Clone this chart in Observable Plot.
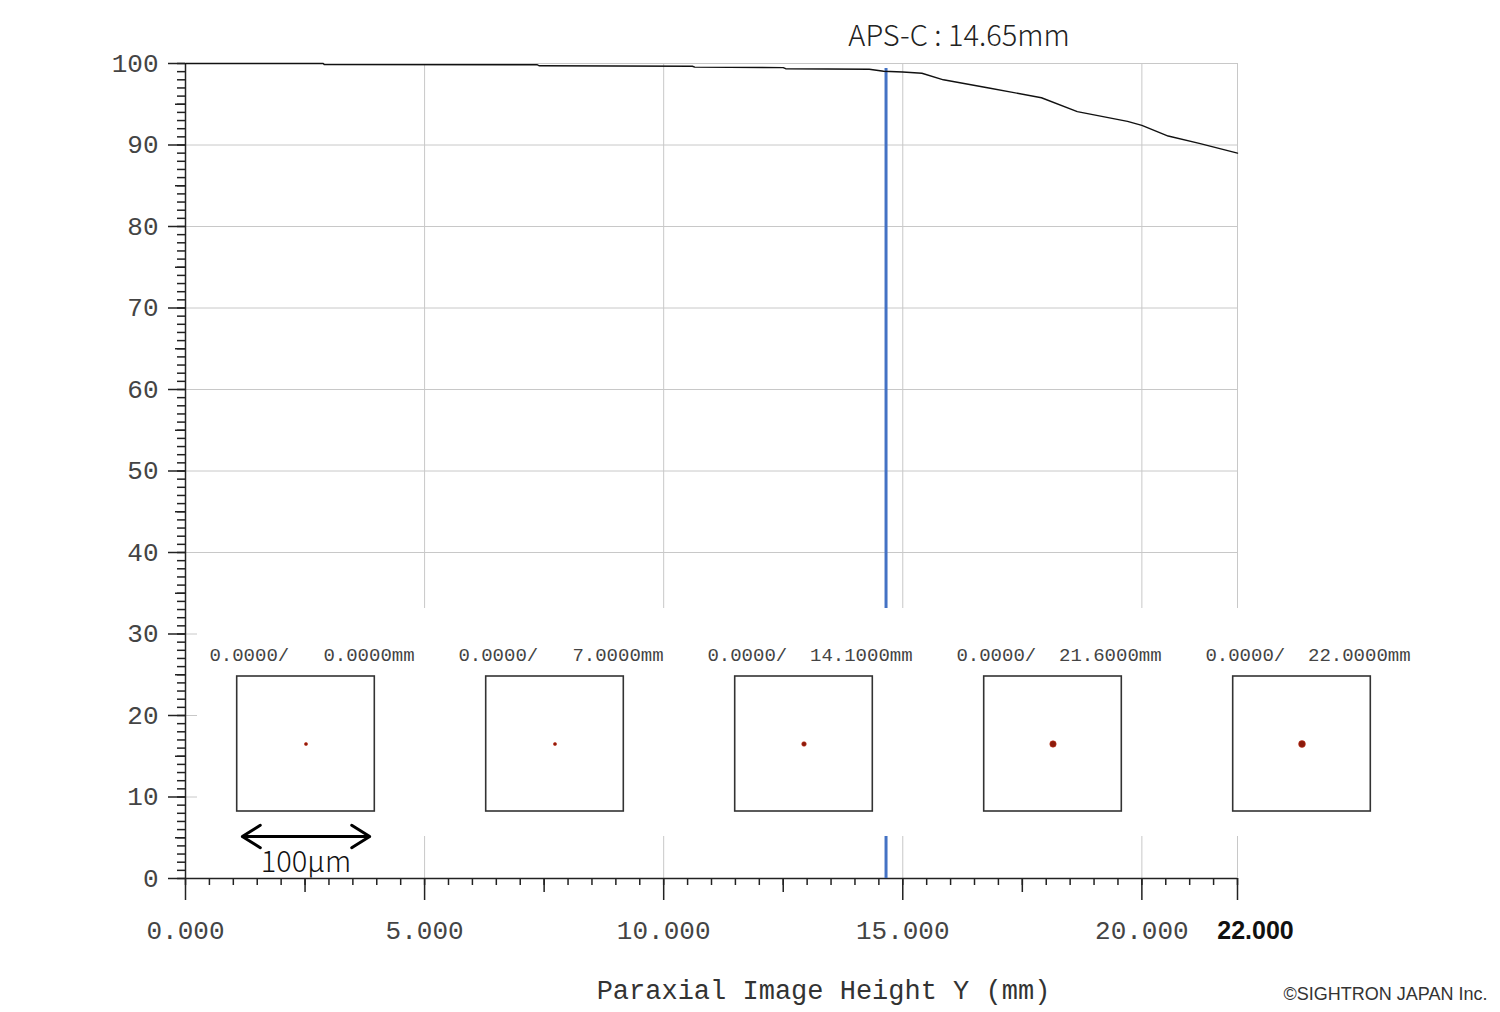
<!DOCTYPE html>
<html><head><meta charset="utf-8">
<script src="https://cdn.jsdelivr.net/npm/d3@7"></script>
<script src="https://cdn.jsdelivr.net/npm/@observablehq/plot@0.6"></script>
<style>
html,body{margin:0;padding:0;background:#fff;}
#wrap{position:relative;width:1500px;height:1012px;overflow:hidden;}
#main{position:absolute;left:0;top:0;}
#inset{position:absolute;left:197px;top:608px;}
svg text{white-space:pre;}
</style></head><body>
<div id="wrap"><div id="main"></div><div id="inset"></div></div>
<script>
// ---- data ----
const curveX = [0, 2.88, 2.9, 7.35, 7.4, 10.6, 10.65, 12.5, 12.55, 14.3, 14.6, 15.0, 15.4, 15.85, 16.8, 17.9, 18.65, 19.7, 20.0, 20.55, 21.2, 22.0];
const curveY = [100, 100, 99.88, 99.85, 99.72, 99.66, 99.55, 99.5, 99.36, 99.3, 99.05, 98.95, 98.8, 98.0, 97.0, 95.8, 94.1, 92.9, 92.4, 91.1, 90.2, 89.0];
const apsC = 14.65;
const apsTop = 99.4;
const apsLabel = "APS-C : 14.65mm";
const xLabelTicks = [0, 5, 10, 15, 20];
const xEnd = 22;
const xGrid = [5, 10, 15, 20, 22];
const xMajor = [0, 5, 10, 15, 20, 22];
const xMedium = [2.5, 7.5, 12.5, 17.5];
const yTicks = [0, 10, 20, 30, 40, 50, 60, 70, 80, 90, 100];
const yGrid = [10, 20, 30, 40, 50, 60, 70, 80, 90, 100];
const yMedium = [5, 15, 25, 35, 45, 55, 65, 75, 85, 95];
const xTitle = "Paraxial Image Height Y (mm)";
const copyright = "©SIGHTRON JAPAN Inc.";

const spotLabels = ["0.0000/   0.0000mm", "0.0000/   7.0000mm", "0.0000/  14.1000mm", "0.0000/  21.6000mm", "0.0000/  22.0000mm"];
const spotRadius = [1.6, 1.6, 2.3, 3.2, 3.4];
const boxHalfUm = 54;
const scaleBarUm = 100;
const scaleBarLabel = "100μm";

// ---- build ----
const curve = curveX.map((x, i) => ({x, y: curveY[i]}));
const fmt = d3.format(".3f");
const mono = "'Liberation Mono', 'DejaVu Sans Mono', monospace";
const jp = "'Noto Sans CJK JP', 'Noto Sans', sans-serif";
const tickColor = "#222";

const main = Plot.plot({
  width: 1500, height: 1012,
  marginTop: 63, marginBottom: 134, marginLeft: 185, marginRight: 263,
  x: {domain: [0, xEnd], label: null},
  y: {domain: [0, 100], label: null},
  style: {background: "white", overflow: "visible"},
  marks: [
    Plot.gridX(xGrid, {stroke: "#c8c8c8", strokeOpacity: 1, strokeWidth: 1}),
    Plot.gridY(yGrid, {stroke: "#c8c8c8", strokeOpacity: 1, strokeWidth: 1}),
    Plot.axisY({ticks: d3.range(0, 101, 1), tickSize: 8, tickFormat: () => "", label: null, stroke: tickColor, strokeWidth: 1.5}),
    Plot.axisY({ticks: yMedium, tickSize: 10, tickFormat: () => "", label: null, stroke: tickColor, strokeWidth: 1.5}),
    Plot.axisY({ticks: yTicks, tickSize: 17, tickFormat: () => "", label: null, stroke: tickColor, strokeWidth: 1.5}),
    Plot.axisY({ticks: yTicks, tickSize: 0, tickPadding: 27, label: null, fontSize: 26, fontFamily: mono, fill: "#444"}),
    Plot.axisX({ticks: d3.range(0, 22.01, 0.5), tickSize: 7, tickFormat: () => "", label: null, stroke: tickColor, strokeWidth: 1.5}),
    Plot.axisX({ticks: xMedium, tickSize: 14, tickFormat: () => "", label: null, stroke: tickColor, strokeWidth: 1.5}),
    Plot.axisX({ticks: xMajor, tickSize: 22, tickFormat: () => "", label: null, stroke: tickColor, strokeWidth: 1.5}),
    Plot.axisX({ticks: xLabelTicks, tickSize: 0, tickPadding: 42, tickFormat: fmt, label: null, fontSize: 26, fontFamily: mono, fill: "#444"}),
    Plot.ruleX([0], {stroke: tickColor, strokeWidth: 1.5}),
    Plot.ruleY([0], {stroke: tickColor, strokeWidth: 1.5}),
    Plot.ruleX([apsC], {y1: 0, y2: apsTop, stroke: "#4472c4", strokeWidth: 3}),
    Plot.line(curve, {x: "x", y: "y", stroke: "#111", strokeWidth: 1.4}),
    Plot.text([apsLabel], {text: d => d, x: apsC, frameAnchor: "top", dy: -38, dx: 73, fontSize: 29, fontWeight: 300, fontFamily: jp, fill: "#222"}),
    Plot.text([xEnd], {text: d => fmt(d), x: d => d, frameAnchor: "bottom", dy: 60, dx: 18, fontSize: 25, fontWeight: "bold", fontFamily: "'Liberation Sans', Arial, sans-serif", fill: "#111"}),
    Plot.text([xTitle], {text: d => d, frameAnchor: "bottom", dx: 112, dy: 120, fontSize: 27, fontFamily: mono, fill: "#333"}),
    Plot.text([copyright], {text: d => d, frameAnchor: "bottom-right", textAnchor: "end", dx: 250, dy: 121, fontSize: 18, fontFamily: "'Liberation Sans', Arial, sans-serif", fill: "#333"})
  ]
});
document.getElementById("main").appendChild(main);

const panels = spotLabels.map((label, i) => ({label, r: spotRadius[i]}));
const scaleBar = [-scaleBarUm / 2, scaleBarUm / 2].map(end => ({label: spotLabels[0], end}));
const scaleText = [{label: spotLabels[0], text: scaleBarLabel}];

const inset = Plot.plot({
  width: 1233, height: 228,
  marginTop: 68, marginBottom: 25, marginLeft: 8.3, marginRight: 28.3,
  fx: {domain: spotLabels, paddingInner: 0.2, paddingOuter: 0, axis: null},
  x: {domain: [-boxHalfUm, boxHalfUm], inset: 30.7, axis: null},
  y: {domain: [-boxHalfUm, boxHalfUm], axis: null},
  r: {type: "identity"},
  style: {background: "white", overflow: "visible"},
  marks: [
    Plot.rect(panels, {fx: "label", x1: -boxHalfUm, x2: boxHalfUm, y1: -boxHalfUm, y2: boxHalfUm, fill: "none", stroke: "#333", strokeWidth: 1.6}),
    Plot.dot(panels, {fx: "label", x: 0, y: 0, r: "r", fill: "#8b1a0c", stroke: "#c0301a", strokeWidth: 0.6}),
    Plot.text(panels, {fx: "label", text: "label", frameAnchor: "top", dy: -29, dx: 6, fontFamily: mono, fontSize: 19, fill: "#444"}),
    Plot.arrow(scaleBar, {fx: "label", x1: 0, x2: "end", y1: -boxHalfUm, y2: -boxHalfUm, dy: 25, stroke: "#000", strokeWidth: 3, headLength: 27, headAngle: 64}),
    Plot.text(scaleText, {fx: "label", text: "text", frameAnchor: "bottom", dy: 60, fontSize: 29, fontWeight: 300, letterSpacing: "1px", fontFamily: jp, fill: "#111"})
  ]
});
document.getElementById("inset").appendChild(inset);
</script>
</body></html>
